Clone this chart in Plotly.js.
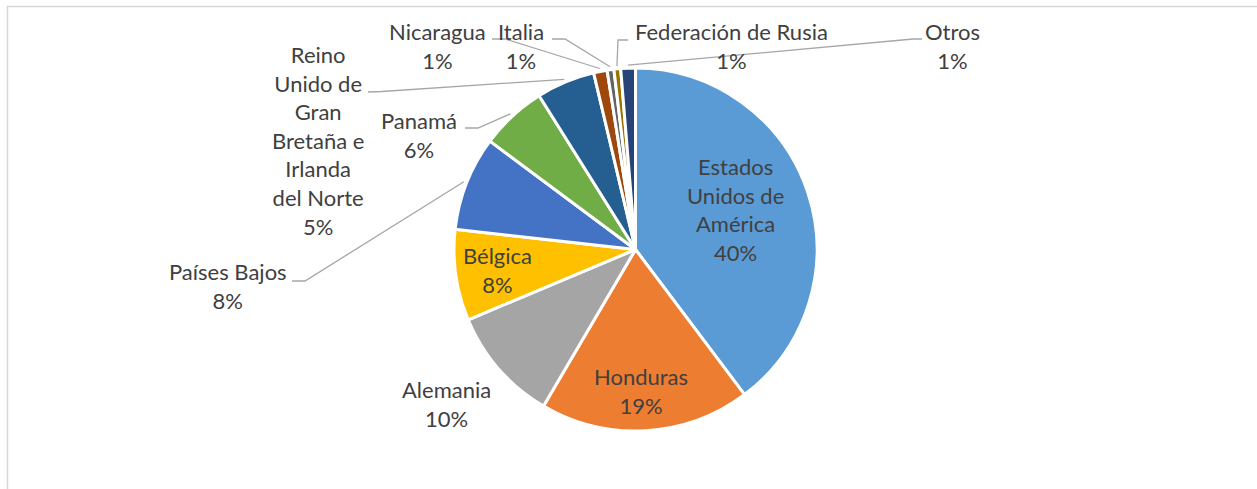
<!DOCTYPE html>
<html>
<head>
<meta charset="utf-8">
<script src="https://cdn.plot.ly/plotly-3.0.1.min.js"></script>
<style>html,body{margin:0;padding:0;background:#fff;}#chart{width:1257px;height:489px;}</style>
</head>
<body>
<div id="chart"></div>
<script>
// ---- data ----
const categories = ["Estados Unidos de América", "Honduras", "Alemania", "Bélgica", "Países Bajos", "Panamá",
  "Reino Unido de Gran Bretaña e Irlanda del Norte", "Nicaragua", "Italia", "Federación de Rusia", "Otros"];
const shares = [39.7, 18.7, 10.2, 8.1, 8.4, 5.9, 5.2, 1.2, 0.6, 0.6, 1.3];
const colors = ["#5B9BD5", "#ED7D31", "#A5A5A5", "#FFC000", "#4472C4", "#70AD47",
  "#255E91", "#9E480E", "#636363", "#997300", "#264478"];

// ---- layout (pixel positions of labels, wrap widths, leader elbows) ----
const W = 1257, H = 489;
const CX = 635.5, CY = 249.5, R = 181.5;
const wrapWidth = [9, 0, 0, 0, 0, 0, 9, 0, 0, 0, 0];
const labelPos = [[735, 209], [641, 391], [446, 404], [497, 270], [228, 286], [419, 135],
  [318, 140], [437, 46], [521, 46], [731, 46], [952, 46]];
const leaderElbow = [null, null, null, null, [[292, 281], [305, 281]], [[465, 128], [478, 128]],
  [[368, 92], [382, 91.5]], [[492, 39], [505, 39]], [[552, 39], [565, 39]],
  [[628, 40], [618, 40]], [[922, 39], [913, 39]]];

const px = x => x / W;
const py = y => 1 - y / H;

function wrap(text, n) {
  if (!n) return text;
  const words = text.split(" ");
  const lines = [];
  let cur = "";
  words.forEach(w => {
    if (!cur) cur = w;
    else if ((cur + " " + w).length <= n) cur += " " + w;
    else { lines.push(cur); cur = w; }
  });
  if (cur) lines.push(cur);
  return lines.join("<br>");
}

const total = shares.reduce((a, b) => a + b, 0);
const annotations = [];
const shapes = [];
let cum = 0;
const font = {family: "Lato, 'Open Sans', sans-serif", size: 22, color: "#404040"};

categories.forEach((c, i) => {
  const frac = shares[i] / total;
  const mid = (cum + frac / 2) * 2 * Math.PI;
  cum += frac;
  const pct = Math.round(frac * 100) + "%";
  annotations.push({
    xref: "paper", yref: "paper",
    x: px(labelPos[i][0]), y: py(labelPos[i][1]),
    xanchor: "center", yanchor: "middle",
    text: wrap(c, wrapWidth[i]) + "<br>" + pct,
    showarrow: false, align: "center", font: font
  });
  if (leaderElbow[i]) {
    const er = R + 3;
    const ex = CX + er * Math.sin(mid);
    const ey = CY - er * Math.cos(mid);
    const [s, e] = leaderElbow[i];
    shapes.push({
      type: "path", xref: "paper", yref: "paper",
      path: `M ${px(s[0])} ${py(s[1])} L ${px(e[0])} ${py(e[1])} L ${px(ex)} ${py(ey)}`,
      line: {color: "#A6A6A6", width: 1.3}
    });
  }
});

// chart border
shapes.push({
  type: "rect", xref: "paper", yref: "paper",
  x0: px(7.5), x1: 1.2, y0: -0.2, y1: py(6.5),
  line: {color: "#D9D9D9", width: 1.5}, fillcolor: "rgba(0,0,0,0)"
});

const trace = {
  type: "pie",
  labels: categories,
  values: shares,
  sort: false,
  direction: "clockwise",
  rotation: 0,
  textinfo: "none",
  hoverinfo: "label+percent",
  marker: {colors: colors, line: {color: "#FFFFFF", width: 3}},
  domain: {x: [px(CX - R), px(CX + R)], y: [py(CY + R), py(CY - R)]},
  showlegend: false
};

const layout = {
  width: W, height: H,
  margin: {l: 0, r: 0, t: 0, b: 0},
  paper_bgcolor: "#FFFFFF",
  showlegend: false,
  annotations: annotations,
  shapes: shapes
};

Plotly.newPlot("chart", [trace], layout, {displayModeBar: false, staticPlot: true});
</script>
</body>
</html>
